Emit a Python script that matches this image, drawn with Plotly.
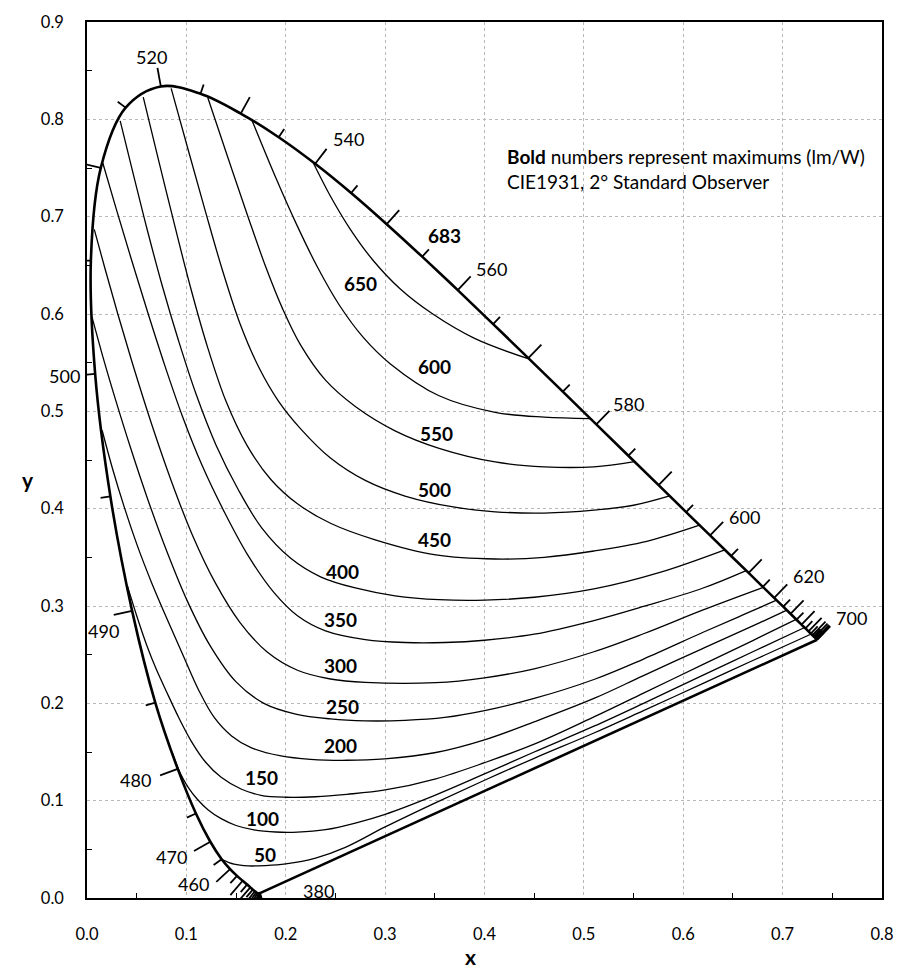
import math
import plotly.graph_objects as go

# ---------------- data ----------------
wavelengths = list(range(380, 705, 5))
locus_x = [0.1741, 0.1740, 0.1738, 0.1736, 0.1733, 0.1730, 0.1726, 0.1721,
           0.1714, 0.1703, 0.1689, 0.1669, 0.1644, 0.1611, 0.1566, 0.1510,
           0.1440, 0.1355, 0.1241, 0.1096, 0.0913, 0.0687, 0.0454, 0.0235,
           0.0082, 0.0039, 0.0139, 0.0389, 0.0743, 0.1142, 0.1547, 0.1929,
           0.2296, 0.2658, 0.3016, 0.3373, 0.3731, 0.4087, 0.4441, 0.4788,
           0.5125, 0.5448, 0.5752, 0.6029, 0.6270, 0.6482, 0.6658, 0.6801,
           0.6915, 0.7006, 0.7079, 0.7140, 0.7190, 0.7230, 0.7260, 0.7283,
           0.7300, 0.7311, 0.7320, 0.7327, 0.7334, 0.7340, 0.7344, 0.7346,
           0.7347]
locus_y = [0.0050, 0.0050, 0.0049, 0.0049, 0.0048, 0.0048, 0.0048, 0.0048,
           0.0051, 0.0058, 0.0069, 0.0086, 0.0109, 0.0138, 0.0177, 0.0227,
           0.0297, 0.0399, 0.0578, 0.0868, 0.1327, 0.2007, 0.2950, 0.4127,
           0.5384, 0.6548, 0.7502, 0.8120, 0.8338, 0.8262, 0.8059, 0.7816,
           0.7543, 0.7243, 0.6923, 0.6589, 0.6245, 0.5896, 0.5547, 0.5202,
           0.4866, 0.4544, 0.4242, 0.3965, 0.3725, 0.3514, 0.3340, 0.3197,
           0.3083, 0.2993, 0.2920, 0.2859, 0.2809, 0.2770, 0.2740, 0.2717,
           0.2700, 0.2689, 0.2680, 0.2673, 0.2666, 0.2660, 0.2656, 0.2654,
           0.2653]
locus_labels = [380, 460, 470, 480, 490, 500, 520, 540, 560, 580, 600, 620, 700]

# iso-efficacy contours (lm/W)
c650_x = [0.2274, 0.2450, 0.2650, 0.2880, 0.3150, 0.3480, 0.3900, 0.4438]
c650_y = [0.7559, 0.7210, 0.6870, 0.6550, 0.6260, 0.6000, 0.5750, 0.5541]
c600_x = [0.1662, 0.1900, 0.2118, 0.2320, 0.2540, 0.2780, 0.3050, 0.3543, 0.4107, 0.4600, 0.5064]
c600_y = [0.7986, 0.7400, 0.6900, 0.6480, 0.6090, 0.5760, 0.5490, 0.5160, 0.4990, 0.4940, 0.4926]
c550_x = [0.1215, 0.1420, 0.1620, 0.1800, 0.1970, 0.2150, 0.2400, 0.2700, 0.3100, 0.3543, 0.4107, 0.4600, 0.5101, 0.5509]
c550_y = [0.8225, 0.7600, 0.7000, 0.6480, 0.6050, 0.5680, 0.5320, 0.5050, 0.4800, 0.4620, 0.4480, 0.4430, 0.4430, 0.4484]
c500_x = [0.0847, 0.1020, 0.1190, 0.1360, 0.1540, 0.1730, 0.1930, 0.2150, 0.2450, 0.2800, 0.3200, 0.3700, 0.4107, 0.4600, 0.5101, 0.5500, 0.5863]
c500_y = [0.8318, 0.7680, 0.7060, 0.6460, 0.5900, 0.5450, 0.5100, 0.4820, 0.4520, 0.4290, 0.4130, 0.4015, 0.3968, 0.3955, 0.3985, 0.4035, 0.4131]
c450_x = [0.0566, 0.0720, 0.0880, 0.1040, 0.1210, 0.1400, 0.1610, 0.1850, 0.2118, 0.2450, 0.2900, 0.3510, 0.4107, 0.4600, 0.5101, 0.5632, 0.6164]
c450_y = [0.8229, 0.7580, 0.6920, 0.6280, 0.5670, 0.5100, 0.4650, 0.4300, 0.4050, 0.3850, 0.3680, 0.3525, 0.3483, 0.3500, 0.3565, 0.3665, 0.3831]
c400_x = [0.0334, 0.0470, 0.0610, 0.0760, 0.0920, 0.1100, 0.1300, 0.1520, 0.1760, 0.2050, 0.2350, 0.2700, 0.3100, 0.3543, 0.4000, 0.4500, 0.5101, 0.5765, 0.6418]
c400_y = [0.7984, 0.7420, 0.6850, 0.6280, 0.5730, 0.5170, 0.4650, 0.4200, 0.3800, 0.3490, 0.3300, 0.3185, 0.3105, 0.3065, 0.3060, 0.3090, 0.3175, 0.3345, 0.3577]
c350_x = [0.0159, 0.0300, 0.0450, 0.0610, 0.0780, 0.0960, 0.1160, 0.1380, 0.1620, 0.1880, 0.2118, 0.2400, 0.2800, 0.3200, 0.3600, 0.4000, 0.4500, 0.5101, 0.5600, 0.6200, 0.6633]
c350_y = [0.7551, 0.7060, 0.6550, 0.6020, 0.5480, 0.4950, 0.4440, 0.3970, 0.3520, 0.3140, 0.2900, 0.2745, 0.2655, 0.2625, 0.2625, 0.2648, 0.2710, 0.2850, 0.2995, 0.3185, 0.3364]
c300_x = [0.0073, 0.0180, 0.0310, 0.0470, 0.0650, 0.0850, 0.1060, 0.1290, 0.1540, 0.1810, 0.2118, 0.2450, 0.2800, 0.3510, 0.4000, 0.4500, 0.5101, 0.5600, 0.6200, 0.6806]
c300_y = [0.6870, 0.6470, 0.6000, 0.5450, 0.4870, 0.4280, 0.3730, 0.3240, 0.2830, 0.2530, 0.2340, 0.2250, 0.2215, 0.2212, 0.2262, 0.2355, 0.2530, 0.2715, 0.2960, 0.3192]
c250_x = [0.0050, 0.0160, 0.0290, 0.0440, 0.0610, 0.0800, 0.1010, 0.1240, 0.1500, 0.1780, 0.2100, 0.2450, 0.2800, 0.3200, 0.3600, 0.4000, 0.4500, 0.5101, 0.5600, 0.6200, 0.6600, 0.6939]
c250_y = [0.5970, 0.5560, 0.5110, 0.4620, 0.4100, 0.3570, 0.3050, 0.2590, 0.2220, 0.2000, 0.1890, 0.1840, 0.1820, 0.1825, 0.1855, 0.1925, 0.2050, 0.2245, 0.2455, 0.2730, 0.2908, 0.3060]
c200_x = [0.0152, 0.0260, 0.0380, 0.0510, 0.0650, 0.0800, 0.0960, 0.1124, 0.1280, 0.1455, 0.1650, 0.1952, 0.2250, 0.2615, 0.2996, 0.3510, 0.4000, 0.4500, 0.5101, 0.5600, 0.6200, 0.6700, 0.7043]
c200_y = [0.4806, 0.4400, 0.4000, 0.3610, 0.3240, 0.2880, 0.2510, 0.2135, 0.1855, 0.1665, 0.1545, 0.1460, 0.1425, 0.1415, 0.1430, 0.1495, 0.1625, 0.1810, 0.2050, 0.2285, 0.2565, 0.2795, 0.2957]
c150_x = [0.0406, 0.0500, 0.0600, 0.0693, 0.0800, 0.0925, 0.1050, 0.1190, 0.1350, 0.1550, 0.1750, 0.2000, 0.2300, 0.2615, 0.3000, 0.3510, 0.4000, 0.4500, 0.5101, 0.5600, 0.6200, 0.6700, 0.7136]
c150_y = [0.3209, 0.2900, 0.2600, 0.2360, 0.2120, 0.1850, 0.1610, 0.1400, 0.1240, 0.1120, 0.1055, 0.1035, 0.1040, 0.1065, 0.1110, 0.1225, 0.1390, 0.1580, 0.1860, 0.2105, 0.2400, 0.2645, 0.2863]
c100_x = [0.0859, 0.0940, 0.1020, 0.1110, 0.1220, 0.1350, 0.1500, 0.1680, 0.1900, 0.2118, 0.2400, 0.2700, 0.3000, 0.3500, 0.4000, 0.4500, 0.5101, 0.5600, 0.6200, 0.6700, 0.7221]
c100_y = [0.1490, 0.1280, 0.1135, 0.1015, 0.0905, 0.0815, 0.0745, 0.0700, 0.0678, 0.0677, 0.0702, 0.0770, 0.0860, 0.1055, 0.1275, 0.1500, 0.1765, 0.2000, 0.2290, 0.2530, 0.2779]
c50_x = [0.1358, 0.1480, 0.1621, 0.1790, 0.2000, 0.2300, 0.2600, 0.3000, 0.3500, 0.4000, 0.4500, 0.5101, 0.5600, 0.6200, 0.6700, 0.7288]
c50_y = [0.0395, 0.0348, 0.0330, 0.0333, 0.0350, 0.0410, 0.0520, 0.0730, 0.0975, 0.1210, 0.1435, 0.1695, 0.1925, 0.2205, 0.2440, 0.2712]

contour_levels = [650, 600, 550, 500, 450, 400, 350, 300, 250, 200, 150, 100, 50]
contour_xs = [c650_x, c600_x, c550_x, c500_x, c450_x, c400_x, c350_x, c300_x, c250_x, c200_x, c150_x, c100_x, c50_x]
contour_ys = [c650_y, c600_y, c550_y, c500_y, c450_y, c400_y, c350_y, c300_y, c250_y, c200_y, c150_y, c100_y, c50_y]
label_values = [683, 650, 600, 550, 500, 450, 400, 350, 300, 250, 200, 150, 100, 50]

# ---------------- layout / style ----------------
W, H = 906, 980
ML, MR, MT, MB = 87, 15, 16, 82
XR, YR = (0.0, 0.8), (0.0, 0.9)
SX = (W - ML - MR) / (XR[1] - XR[0])   # px per x unit
SY = (H - MT - MB) / (YR[1] - YR[0])   # px per y unit
FONT = "Lato"

# label placement (px offsets from the locus point: right, down)
locus_label_offsets = {380: (58, -2), 460: (-37, 15), 470: (-39, 15), 480: (-42, 11),
                       490: (-29, 20), 500: (-31, 2), 520: (-9, -29), 540: (33, -25),
                       560: (34, -21), 580: (32, -20), 600: (34.5, -18), 620: (34, -22),
                       700: (34, -21.5)}
# contour label centres (data coords)
contour_label_pos = {683: (0.3595, 0.6811), 650: (0.2750, 0.6311), 600: (0.3500, 0.5464),
                     550: (0.3520, 0.4770), 500: (0.3500, 0.4199), 450: (0.3496, 0.3679),
                     400: (0.2566, 0.3352), 350: (0.2551, 0.2862), 300: (0.2551, 0.2393),
                     250: (0.2566, 0.1964), 200: (0.2551, 0.1566), 150: (0.1760, 0.1240),
                     100: (0.1770, 0.0821), 50: (0.1795, 0.0444)}

fig = go.Figure()

for lvl, cx, cy in zip(contour_levels, contour_xs, contour_ys):
    fig.add_trace(go.Scatter(x=cx, y=cy, mode="lines",
                             line=dict(color="black", width=1.3, shape="spline", smoothing=1.0),
                             hoverinfo="skip", name=str(lvl)))

# line of purples
fig.add_trace(go.Scatter(x=[locus_x[0], locus_x[-1]], y=[locus_y[0], locus_y[-1]],
                         mode="lines", line=dict(color="black", width=2.6), hoverinfo="skip"))
# spectral locus
fig.add_trace(go.Scatter(x=locus_x, y=locus_y, mode="lines",
                         line=dict(color="black", width=2.6, shape="spline", smoothing=1.0),
                         hoverinfo="skip"))

# wavelength tick marks (outward normals, computed in pixel space)
tick_x, tick_y = [], []
n = len(wavelengths)
for i, wl in enumerate(wavelengths):
    i0, i1 = max(i - 1, 0), min(i + 1, n - 1)
    tx = (locus_x[i1] - locus_x[i0]) * SX
    ty = (locus_y[i1] - locus_y[i0]) * SY
    nrm = math.hypot(tx, ty) or 1.0
    nx, ny = -ty / nrm, tx / nrm
    L = 19 if wl % 10 == 0 else 10
    tick_x += [locus_x[i], locus_x[i] + nx * L / SX, None]
    tick_y += [locus_y[i], locus_y[i] + ny * L / SY, None]
fig.add_trace(go.Scatter(x=tick_x, y=tick_y, mode="lines",
                         line=dict(color="black", width=1.8), hoverinfo="skip"))

annotations = []
for wl in locus_labels:
    i = wavelengths.index(wl)
    dx, dy = locus_label_offsets[wl]
    annotations.append(dict(x=locus_x[i], y=locus_y[i], xref="x", yref="y", text=str(wl),
                            showarrow=False, xshift=dx, yshift=-dy,
                            font=dict(family=FONT, size=18, color="black"),
                            xanchor="center", yanchor="middle"))
for v in label_values:
    px_, py_ = contour_label_pos[v]
    annotations.append(dict(x=px_, y=py_, xref="x", yref="y", text=f"<b>{v}</b>",
                            showarrow=False, font=dict(family=FONT, size=19, color="black"),
                            xanchor="center", yanchor="middle"))

annotations.append(dict(x=0.4206, y=0.749, xref="x", yref="y",
                        text="<b>Bold</b> numbers represent maximums (lm/W)<br>CIE1931, 2° Standard Observer",
                        showarrow=False, align="left", xanchor="left", yanchor="middle",
                        font=dict(family=FONT, size=19, color="black")))
# axis titles
annotations.append(dict(x=(19 - ML) / (W - ML - MR), y=(H - MB - 476.7) / (H - MT - MB),
                        xref="paper", yref="paper", text="<b>y</b>", showarrow=False,
                        font=dict(family=FONT, size=21, color="black")))
annotations.append(dict(x=(475 - ML) / (W - ML - MR), y=(H - MB - 972) / (H - MT - MB),
                        xref="paper", yref="paper", text="<b>x</b>", showarrow=False,
                        font=dict(family=FONT, size=21, color="black")))

axis_common = dict(showgrid=True, gridcolor="#b8b8b8", griddash="3px,3px", gridwidth=1,
                   showline=True, mirror=True, linecolor="black", linewidth=1.6,
                   ticks="", zeroline=False, tickformat=".1f",
                   tickfont=dict(family=FONT, size=16.5, color="black"),
                   minor=dict(ticks="inside", ticklen=5, tickcolor="black", tickwidth=1,
                              dtick=0.05, showgrid=False))

fig.update_layout(
    width=W, height=H,
    margin=dict(l=ML, r=MR, t=MT, b=MB),
    paper_bgcolor="white", plot_bgcolor="white",
    showlegend=False,
    font=dict(family=FONT, size=16.5, color="black"),
    xaxis=dict(range=list(XR), dtick=0.1, tick0=0, ticklabelstandoff=20, **axis_common),
    yaxis=dict(range=list(YR), dtick=0.1, tick0=0, ticklabelstandoff=18, **axis_common),
    annotations=annotations,
)

fig.write_html("out.html")
